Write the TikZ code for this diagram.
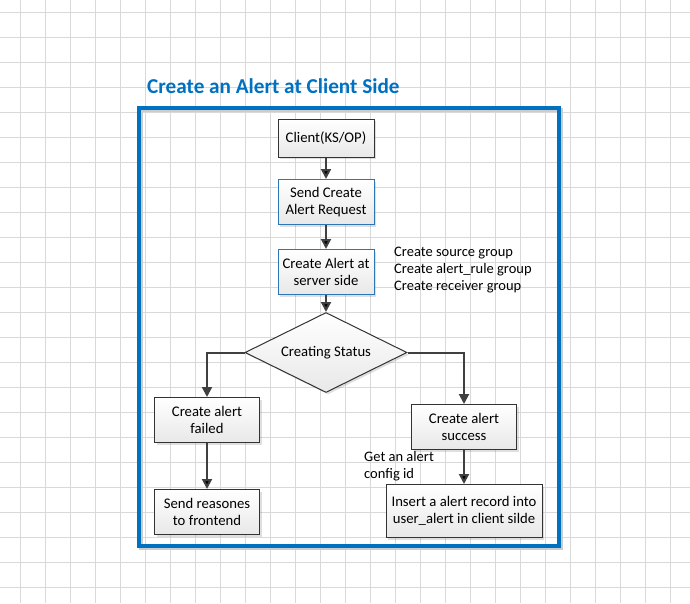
\documentclass[tikz,border=0pt]{standalone}
\usepackage{fontspec}
\setmainfont{Carlito}
\usetikzlibrary{shapes.geometric,arrows.meta,shadows}
\definecolor{frameblue}{RGB}{0,112,192}
\definecolor{boxblue}{RGB}{46,117,182}
\definecolor{linegray}{RGB}{64,64,64}
\definecolor{gridgray}{RGB}{217,217,217}

\begin{document}
\begin{tikzpicture}[x=1pt,y=-1pt,node distance=64pt,
  box/.style={rectangle,draw=black!80,line width=1pt,top color=white,bottom color=black!9,
    minimum width=96pt,minimum height=45pt,align=center,inner sep=2pt,
    drop shadow={shadow xshift=2pt,shadow yshift=-2pt,opacity=.25},
    font=\fontsize{14.7}{16.7}\selectfont},
  bluebox/.style={box,draw=boxblue},
  decision/.style={box,diamond,aspect=2.03,minimum width=162pt,minimum height=80pt,inner sep=0pt},
  note/.style={anchor=west,align=left,inner sep=0pt,font=\fontsize{14.5}{16.7}\selectfont},
  flow/.style={-{Triangle[length=10pt,width=10pt]},line width=2pt,draw=linegray}]

\useasboundingbox (0,0) rectangle (690,603);
\fill[white] (0,0) rectangle (690,603);
\foreach \x in {20,45,...,670} \draw[gridgray,line width=0.9pt] (\x,0) -- (\x,603);
\foreach \y in {12,37,...,587} \draw[gridgray,line width=0.9pt] (0,\y) -- (690,\y);

% frame
\draw[black!20,line width=4pt] (141,110) rectangle (561,548);
\draw[frameblue,line width=4pt] (139,108) rectangle (559,546);
\node[anchor=west,inner sep=0pt,text=frameblue,font=\fontsize{21.2}{24}\selectfont\bfseries] (t0) at (147,86) {Create an Alert at Client Side};

\node[box,minimum height=38pt] (c0) at (326,138) {Client(KS/OP)};
\node[bluebox] (c1) [below of=c0] {Send Create\\Alert Request};
\node[bluebox] (c2) [below of=c1,node distance=70pt] {Create Alert at\\server side};
\node[decision] (d0) [below of=c2,node distance=80.5pt] {Creating Status};
\node[box,minimum width=105pt] (f1) at (207,420) {Create alert\\failed};
\node[box,minimum width=105pt] (f2) [below of=f1,node distance=92pt] {Send reasones\\to frontend};
\node[box,minimum width=105pt] (s1) at (464,427) {Create alert\\success};
\node[box,minimum width=156pt,minimum height=53pt] (s2) [below of=s1,node distance=84pt] {Insert a alert record into\\user\_alert in client silde};

\node[note] (n0) at (394,270) {Create source group\\Create alert\_rule group\\Create receiver group};
\node[note] (n1) at (364,466) {Get an alert\\config id};

\path[flow] (c0) edge (c1)
	(c1) edge (c2)
	(c2) edge (d0)
	(f1) edge (f2)
	(s1) edge (s2);
\draw[flow] (d0.west) -| (f1);
\draw[flow] (d0.east) -| (s1);

\end{tikzpicture}
\end{document}
